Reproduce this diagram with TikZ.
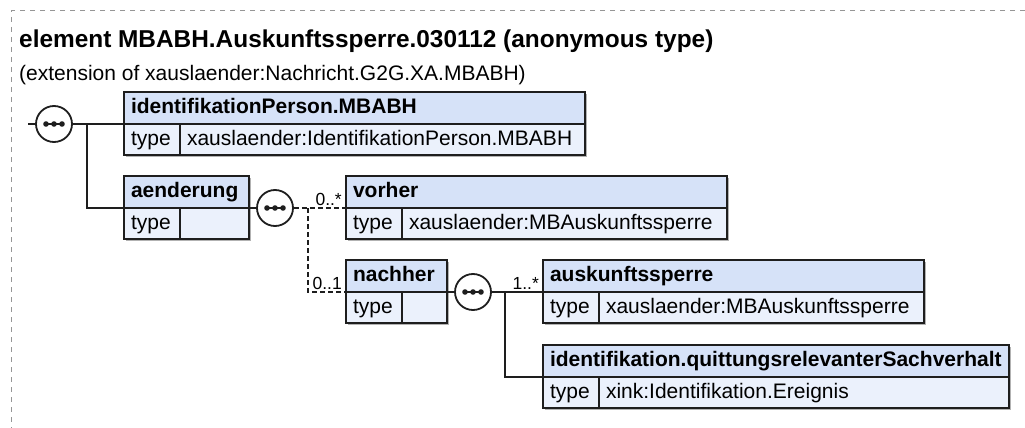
\documentclass[tikz,border=0pt]{standalone}
\usepackage{fontspec}
\setmainfont{Liberation Sans}
\usetikzlibrary{positioning,shadows}
\definecolor{ink}{RGB}{30,30,30}
\definecolor{hdrfill}{RGB}{214,226,248}
\definecolor{rowfill}{RGB}{235,241,252}
\definecolor{frm}{RGB}{150,150,150}
\tikzset{
  cell/.style={draw=ink,line width=1.8pt,outer sep=0pt,inner xsep=7pt,inner ysep=0pt,
    align=left,text height=15pt,text depth=4pt,font=\fontsize{21}{25}\selectfont,
    general shadow={fill=black!30,shadow xshift=2pt,shadow yshift=-2pt}},
  hdr/.style={cell,fill=hdrfill,minimum height=32pt,font=\fontsize{21}{25}\selectfont\bfseries},
  row/.style={cell,fill=rowfill,minimum height=31pt},
  seq/.style={circle,draw=ink,fill=white,line width=1.8pt,minimum size=36pt,inner sep=0pt},
  ln/.style={draw=ink,line width=1.8pt},
  dln/.style={ln,dash pattern=on 5pt off 3pt},
  card/.style={font=\fontsize{17.5}{20}\selectfont,inner sep=0pt,anchor=base east},
  frame/.style={draw=frm,line width=1pt,dash pattern=on 5pt off 5pt},
}
% element box: name, x, y, width, type cell width, header, type value
\newcommand{\elbox}[7]{%
  \pgfmathsetmacro\wa{#4-14}\pgfmathsetmacro\wb{#5-14}\pgfmathsetmacro\wc{#4-#5-14}%
  \node[hdr,text width=\wa pt,anchor=north west] (#1) at (#2,#3) {#6};
  \node[row,text width=\wb pt,anchor=north west] (#1-t) at (#1.south west) {type};
  \node[row,text width=\wc pt,anchor=north west] (#1-v) at (#1-t.north east) {#7};
}
% dots of a sequence compositor
\newcommand{\seqdots}[1]{%
  \draw[ink,line width=1.2pt] ([xshift=-10pt]#1.center) -- ([xshift=10pt]#1.center);
  \foreach \dx in {-8,0,8} \fill[ink] ([xshift=\dx pt]#1.center) circle (2.8pt);
}

\begin{document}
\begin{tikzpicture}[x=1pt,y=-1pt]
  \useasboundingbox (0,0) rectangle (1025,428);
  \draw[frame] (1025,11) -- (11,11) -- (11,428);

  % heading
  \node[anchor=base west,inner sep=0pt,font=\fontsize{24.4}{28}\selectfont\bfseries] (title) at (19,48)
    {element MBABH.Auskunftssperre.030112 (anonymous type)};
  \node[anchor=base west,inner sep=0pt,font=\fontsize{21}{25}\selectfont] (ext) at (19,81)
    {(extension of xauslaender:Nachricht.G2G.XA.MBABH)};

  % elements
  \elbox{idp}{124}{92}{461}{56}{identifikationPerson.MBABH}{xauslaender:IdentifikationPerson.MBABH}
  \elbox{aend}{124}{176}{125}{56}{aenderung}{}
  \elbox{vorher}{346}{176}{381}{56}{vorher}{xauslaender:MBAuskunftssperre}
  \elbox{nachher}{346}{260}{101}{56}{nachher}{}
  \elbox{ausk}{543}{260}{381}{56}{auskunftssperre}{xauslaender:MBAuskunftssperre}
  \elbox{ident}{543}{345}{466}{56}{identifikation.quittungsrelevanterSachverhalt}{xink:Identifikation.Ereignis}

  % sequences
  \coordinate (in) at (28,124);
  \coordinate (b1) at (87,124);
  \coordinate (b2) at (308,208);
  \coordinate (b3) at (505,292);
  \draw[ln] (in) -- (b1);
  \node[seq] (s1) at (54,124) {};
  \node[seq] (s2) at (275,208) {};
  \node[seq] (s3) at (473,292) {};
  \seqdots{s1}
  \seqdots{s2}
  \seqdots{s3}

  % connectors
  \draw[ln] (s1.east) -- (idp.south west);
  \draw[ln] (b1) |- (aend.south west);
  \draw[ln] (aend.south east) -- (s2.west);
  \draw[dln] (s2.east) -- (b2) -- (vorher.south west);
  \draw[dln] (b2) |- (nachher.south west);
  \draw[ln] (nachher.south east) -- (s3.west);
  \draw[ln] (s3.east) -- (ausk.south west);
  \draw[ln] (b3) |- (ident.south west);

  % occurrences
  \node[card] (c1) at ([xshift=-4pt,yshift=3pt]vorher.south west) {0..*};
  \node[card] (c2) at ([xshift=-4pt,yshift=3pt]nachher.south west) {0..1};
  \node[card] (c3) at ([xshift=-4pt,yshift=3pt]ausk.south west) {1..*};
\end{tikzpicture}
\end{document}
